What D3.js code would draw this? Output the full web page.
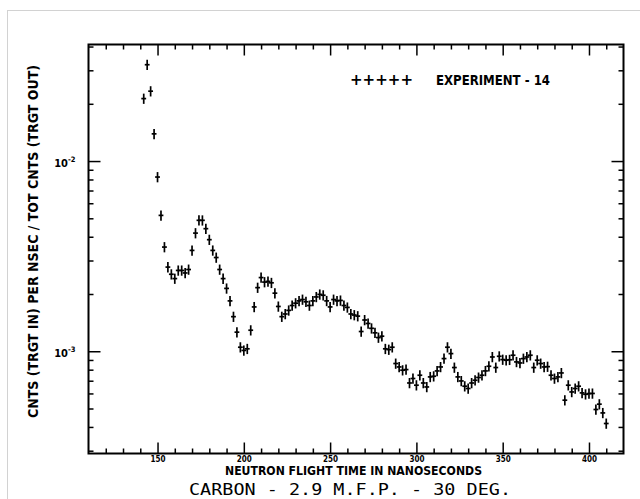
<!DOCTYPE html>
<html>
<head>
<meta charset="utf-8">
<script src="https://cdn.jsdelivr.net/npm/d3@7"></script>
<style>
  html, body { margin: 0; padding: 0; background: #fff; }
  svg { display: block; }
  text { font-family: "DejaVu Sans Condensed", "DejaVu Sans", sans-serif; font-weight: bold; fill: #000; }
  .title { font-family: "DejaVu Sans Mono", monospace; font-weight: normal; }
</style>
</head>
<body>
<svg id="chart" width="640" height="499"></svg>
<script>
// Neutron time-of-flight spectrum, carbon target, 2.9 mean free paths, 30 degrees.
const flightTime = [
  142,144,146,148,150,152,154,156,158,160,162,164,166,168,170,172,174,176,178,180,
  182,184,186,188,190,192,194,196,198,200,202,204,206,208,210,212,214,216,218,220,
  222,224,226,228,230,232,234,236,238,240,242,244,246,248,250,252,254,256,258,260,
  262,264,266,268,270,272,274,276,278,280,282,284,286,288,290,292,294,296,298,300,
  302,304,306,308,310,312,314,316,318,320,322,324,326,328,330,332,334,336,338,340,
  342,344,346,348,350,352,354,356,358,360,362,364,366,368,370,372,374,376,378,380,
  382,384,386,388,390,392,394,396,398,400,402,404,406,408,410
];
const countRatio = [
  0.0213,0.0321,0.0233,0.0139,0.00824,0.00518,0.00353,0.00277,0.00254,0.00241,
  0.00266,0.00266,0.00258,0.00269,0.00339,0.00418,0.00488,0.00488,0.00441,0.00386,
  0.00339,0.00311,0.00269,0.00241,0.00214,0.00184,0.00152,0.00126,0.00105,0.00101,
  0.00103,0.00129,0.00171,0.00216,0.00244,0.00231,0.00233,0.00229,0.00202,0.00172,
  0.00152,0.00157,0.00164,0.00174,0.00179,0.00184,0.00187,0.00182,0.00174,0.00184,
  0.00193,0.00199,0.00197,0.00184,0.00171,0.00187,0.00184,0.00185,0.00174,0.00170,
  0.00157,0.00155,0.00153,0.00127,0.00146,0.00140,0.00132,0.00125,0.00118,0.00120,
  0.00103,0.00102,0.00105,0.000862,0.000827,0.000795,0.000801,0.000681,0.000719,0.000663,
  0.000748,0.000681,0.000649,0.000733,0.000739,0.000788,0.000827,0.000915,0.00105,0.000972,
  0.000821,0.000733,0.000698,0.000655,0.000637,0.000681,0.000704,0.000728,0.000748,0.000788,
  0.000834,0.000933,0.000821,0.000941,0.000904,0.000897,0.000902,0.000953,0.000879,0.000868,
  0.000915,0.000933,0.000953,0.000821,0.000897,0.000862,0.000827,0.000830,0.000748,0.000719,
  0.000733,0.000769,0.000553,0.000663,0.000611,0.000637,0.000655,0.000604,0.000594,0.000599,
  0.000600,0.000494,0.000527,0.000474,0.000417
];
const relativeError = 0.062;   // statistical uncertainty per channel
const binHalfWidth = 1.4;      // ns

const xMajorTicks = [150, 200, 250, 300, 350, 400];
const xTickLabels = ["150", "200", "250", "300", "350", "400"];
const xMinorTicks = [120,130,140,160,170,180,190,210,220,230,240,260,270,280,290,310,320,330,340,360,370,380,390,410];
const yMajorTicks = [1e-3, 1e-2];
const yTickBase = ["10", "10"];
const yTickExponent = ["-3", "-2"];
const yMinorTicks = [3e-4,4e-4,5e-4,6e-4,7e-4,8e-4,9e-4,2e-3,3e-3,4e-3,5e-3,6e-3,7e-3,8e-3,9e-3,2e-2,3e-2,4e-2];

const svg = d3.select("#chart");

// page card outline
svg.append("rect")
  .attr("x", 7.5).attr("y", 10.5).attr("width", 700).attr("height", 600)
  .attr("fill", "#fff").attr("stroke", "#d2d2d2").attr("stroke-width", 1);

const plotLeft = 88.5, plotRight = 623.5, plotTop = 44.5, plotBottom = 453.5;
const x = d3.scaleLinear().domain([110, 420]).range([plotLeft, plotRight]);
const y = d3.scaleLog().domain([2.9e-4, 4.1e-2]).range([plotBottom, plotTop]);

function styleAxis(g) {
  g.select(".domain").remove();
  g.selectAll(".tick line").attr("stroke", "#000").attr("stroke-width", 1.5);
}

// bottom axis
svg.append("g").attr("transform", `translate(0,${plotBottom})`)
  .call(d3.axisBottom(x).tickValues(xMinorTicks).tickSize(-5).tickFormat(""))
  .call(styleAxis);
const xb = svg.append("g").attr("transform", `translate(0,${plotBottom})`)
  .call(d3.axisBottom(x).tickValues(xMajorTicks).tickSize(-11).tickPadding(0)
    .tickFormat((d, i) => xTickLabels[i]))
  .call(styleAxis);
xb.attr("font-family", null).attr("font-size", null);
xb.selectAll(".tick text")
  .attr("y", 8).attr("dy", 0)
  .style("font-size", "8px");

// top axis
svg.append("g").attr("transform", `translate(0,${plotTop})`)
  .call(d3.axisTop(x).tickValues(xMinorTicks).tickSize(-5).tickFormat(""))
  .call(styleAxis);
svg.append("g").attr("transform", `translate(0,${plotTop})`)
  .call(d3.axisTop(x).tickValues(xMajorTicks).tickSize(-11).tickFormat(""))
  .call(styleAxis);

// left axis
svg.append("g").attr("transform", `translate(${plotLeft},0)`)
  .call(d3.axisLeft(y).tickValues(yMinorTicks).tickSize(-5).tickFormat(""))
  .call(styleAxis);
const yl = svg.append("g").attr("transform", `translate(${plotLeft},0)`)
  .call(d3.axisLeft(y).tickValues(yMajorTicks).tickSize(-12).tickFormat(""))
  .call(styleAxis);
yl.attr("font-family", null).attr("font-size", null);
yl.selectAll(".tick").each(function(d, i) {
  const t = d3.select(this).append("text")
    .attr("x", -13).attr("y", 5.5)
    .attr("text-anchor", "end")
    .style("font-size", "11px");
  t.append("tspan").text(yTickBase[i]);
  t.append("tspan").attr("dy", -5).style("font-size", "7.5px").text(yTickExponent[i]);
});

// right axis
svg.append("g").attr("transform", `translate(${plotRight},0)`)
  .call(d3.axisRight(y).tickValues(yMinorTicks).tickSize(-5).tickFormat(""))
  .call(styleAxis);
svg.append("g").attr("transform", `translate(${plotRight},0)`)
  .call(d3.axisRight(y).tickValues(yMajorTicks).tickSize(-12).tickFormat(""))
  .call(styleAxis);

// frame
svg.append("rect")
  .attr("x", plotLeft).attr("y", plotTop)
  .attr("width", plotRight - plotLeft).attr("height", plotBottom - plotTop)
  .attr("fill", "none").attr("stroke", "#000").attr("stroke-width", 2);

// data crosses: horizontal bar = channel width, vertical bar = uncertainty
const points = flightTime.map((t, i) => ({ t, v: countRatio[i] }));
const marks = svg.append("g").attr("stroke", "#000").attr("stroke-width", 1.7);
marks.selectAll("line.h").data(points).join("line").attr("class", "h")
  .attr("x1", d => x(d.t - binHalfWidth)).attr("x2", d => x(d.t + binHalfWidth))
  .attr("y1", d => y(d.v)).attr("y2", d => y(d.v));
marks.selectAll("line.v").data(points).join("line").attr("class", "v")
  .attr("x1", d => x(d.t)).attr("x2", d => x(d.t))
  .attr("y1", d => y(d.v * (1 + relativeError))).attr("y2", d => y(d.v * (1 - relativeError)));

// legend
svg.append("text").attr("x", 350).attr("y", 85)
  .attr("textLength", 63).attr("lengthAdjust", "spacingAndGlyphs")
  .style("font-size", "15px").text("+++++");
svg.append("text").attr("x", 436).attr("y", 85)
  .attr("textLength", 114).attr("lengthAdjust", "spacingAndGlyphs")
  .style("font-size", "13.5px").text("EXPERIMENT - 14");

// axis titles
svg.append("text").attr("x", 225).attr("y", 475)
  .attr("textLength", 257).attr("lengthAdjust", "spacingAndGlyphs")
  .style("font-size", "12.5px").text("NEUTRON FLIGHT TIME IN NANOSECONDS");
svg.append("text")
  .attr("transform", "translate(38,241.5) rotate(-90)")
  .attr("text-anchor", "middle")
  .attr("textLength", 353).attr("lengthAdjust", "spacingAndGlyphs")
  .style("font-size", "13.5px").text("CNTS (TRGT IN) PER NSEC / TOT CNTS (TRGT OUT)");

// chart title
svg.append("text").attr("class", "title").attr("x", 189).attr("y", 495)
  .attr("textLength", 322).attr("lengthAdjust", "spacingAndGlyphs")
  .style("font-size", "16px").text("CARBON - 2.9 M.F.P. - 30 DEG.");
</script>
</body>
</html>
